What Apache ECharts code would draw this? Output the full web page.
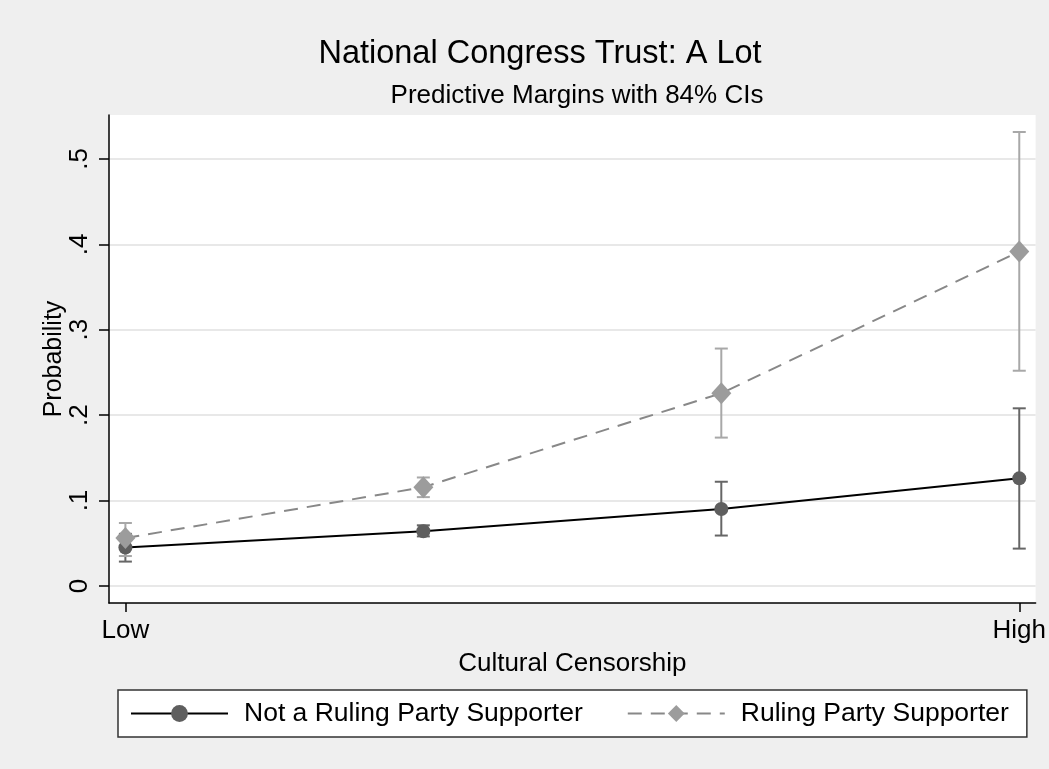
<!DOCTYPE html>
<html>
<head>
<meta charset="utf-8">
<script src="https://cdn.jsdelivr.net/npm/echarts@6/dist/echarts.min.js"></script>
<style>
  html, body { margin: 0; padding: 0; background: #efefef; }
  #chart { width: 1049px; height: 769px; }
</style>
</head>
<body>
<div id="chart"></div>
<script>
// x positions: 1 = Low ... 4 = High
const levels = [1, 2, 3, 4]
const xTickValues = [1, 4]
const xTickLabels = { 1: 'Low', 4: 'High' }
const yTickValues = [0, 0.1, 0.2, 0.3, 0.4, 0.5]

const notRulingMean = [0.045, 0.064, 0.090, 0.126]
const notRulingLow = [0.0285, 0.058, 0.059, 0.0437]
const notRulingHigh = [0.061, 0.071, 0.122, 0.208]

const rulingMean = [0.056, 0.1156, 0.2256, 0.3915]
const rulingLow = [0.035, 0.104, 0.1737, 0.252]
const rulingHigh = [0.0737, 0.127, 0.278, 0.5316]

const DARK = '#5e5e5e'
const LIGHT = '#9c9c9c'
const FONT = '"Liberation Sans", Arial, Helvetica, sans-serif'

function ciSeries(name, low, high, color) {
  return {
    type: 'custom',
    name: name + ' CI',
    silent: true,
    z: 1,
    data: levels.map((x, i) => [x, low[i], high[i]]),
    renderItem: (params, api) => {
      const top = api.coord([api.value(0), api.value(2)])
      const bot = api.coord([api.value(0), api.value(1)])
      const cap = 6.5
      const style = { stroke: color, lineWidth: 2, fill: null }
      return {
        type: 'group',
        children: [
          { type: 'line', shape: { x1: top[0], y1: top[1], x2: bot[0], y2: bot[1] }, style },
          { type: 'line', shape: { x1: top[0] - cap, y1: top[1], x2: top[0] + cap, y2: top[1] }, style },
          { type: 'line', shape: { x1: bot[0] - cap, y1: bot[1], x2: bot[0] + cap, y2: bot[1] }, style },
        ],
      }
    },
  }
}

const chart = echarts.init(document.getElementById('chart'))
chart.setOption({
  backgroundColor: '#efefef',
  animation: false,
  textStyle: { fontFamily: FONT },
  title: [
    {
      text: 'National Congress Trust: A Lot',
      left: 535, top: 33, textAlign: 'center',
      textStyle: { fontFamily: FONT, fontSize: 32.5, fontWeight: 'normal', color: '#000' },
    },
    {
      text: 'Predictive Margins with 84% CIs',
      left: 572, top: 78, textAlign: 'center',
      textStyle: { fontFamily: FONT, fontSize: 26, fontWeight: 'normal', color: '#000' },
    },
  ],
  grid: {
    left: 109, top: 115, right: 13, bottom: 166,
    show: true, backgroundColor: '#ffffff', borderWidth: 0,
  },
  xAxis: {
    type: 'value',
    min: 0.945, max: 4.055,
    name: 'Cultural Censorship',
    nameLocation: 'middle',
    nameGap: 48,
    nameTextStyle: { fontFamily: FONT, fontSize: 26, color: '#000' },
    axisLine: { show: true, onZero: false, lineStyle: { color: '#000', width: 1.5 } },
    axisTick: { show: true, customValues: xTickValues, length: 9, lineStyle: { color: '#000', width: 1.5 } },
    axisLabel: {
      customValues: xTickValues, margin: 15,
      fontFamily: FONT, fontSize: 26, color: '#000',
      formatter: (v) => xTickLabels[v] || '',
    },
    splitLine: { show: false },
  },
  yAxis: {
    type: 'value',
    min: -0.02, max: 0.5515,
    name: 'Probability',
    nameLocation: 'middle',
    nameGap: 42,
    nameMoveOverlap: false,
    nameTextStyle: { fontFamily: FONT, fontSize: 25, color: '#000' },
    axisLine: { show: true, onZero: false, lineStyle: { color: '#000', width: 1.5 } },
    axisTick: { show: true, customValues: yTickValues, length: 10, lineStyle: { color: '#000', width: 1.5 } },
    axisLabel: {
      customValues: yTickValues, rotate: 90, margin: 16,
      fontFamily: FONT, fontSize: 26, color: '#000',
      formatter: (v) => (v === 0 ? '0' : String(+v.toFixed(1)).replace(/^0\./, '.')),
    },
    splitLine: { show: true, lineStyle: { color: '#e8e8e8', width: 2 } },
  },
  legend: {
    left: 118, top: 690,
    padding: [10, 18, 10, 12],
    backgroundColor: '#ffffff',
    borderColor: '#333', borderWidth: 1.5,
    itemWidth: 97, itemHeight: 21, itemGap: 44,
    textStyle: { fontFamily: FONT, fontSize: 26.5, color: '#000', padding: [0, 0, 0, 11] },
    data: ['Not a Ruling Party Supporter', 'Ruling Party Supporter'],
  },
  series: [
    ciSeries('Not a Ruling Party Supporter', notRulingLow, notRulingHigh, '#666666'),
    ciSeries('Ruling Party Supporter', rulingLow, rulingHigh, '#a8a8a8'),
    {
      type: 'line',
      name: 'Not a Ruling Party Supporter',
      z: 3,
      data: levels.map((x, i) => [x, notRulingMean[i]]),
      symbol: 'circle', symbolSize: 14,
      itemStyle: { color: DARK },
      lineStyle: { color: '#000', width: 2 },
    },
    {
      type: 'line',
      name: 'Ruling Party Supporter',
      z: 4,
      data: levels.map((x, i) => [x, rulingMean[i]]),
      symbol: 'diamond', symbolSize: [20, 22],
      itemStyle: { color: LIGHT },
      lineStyle: { color: '#888888', width: 2, type: [14, 9] },
    },
  ],
})
</script>
</body>
</html>
